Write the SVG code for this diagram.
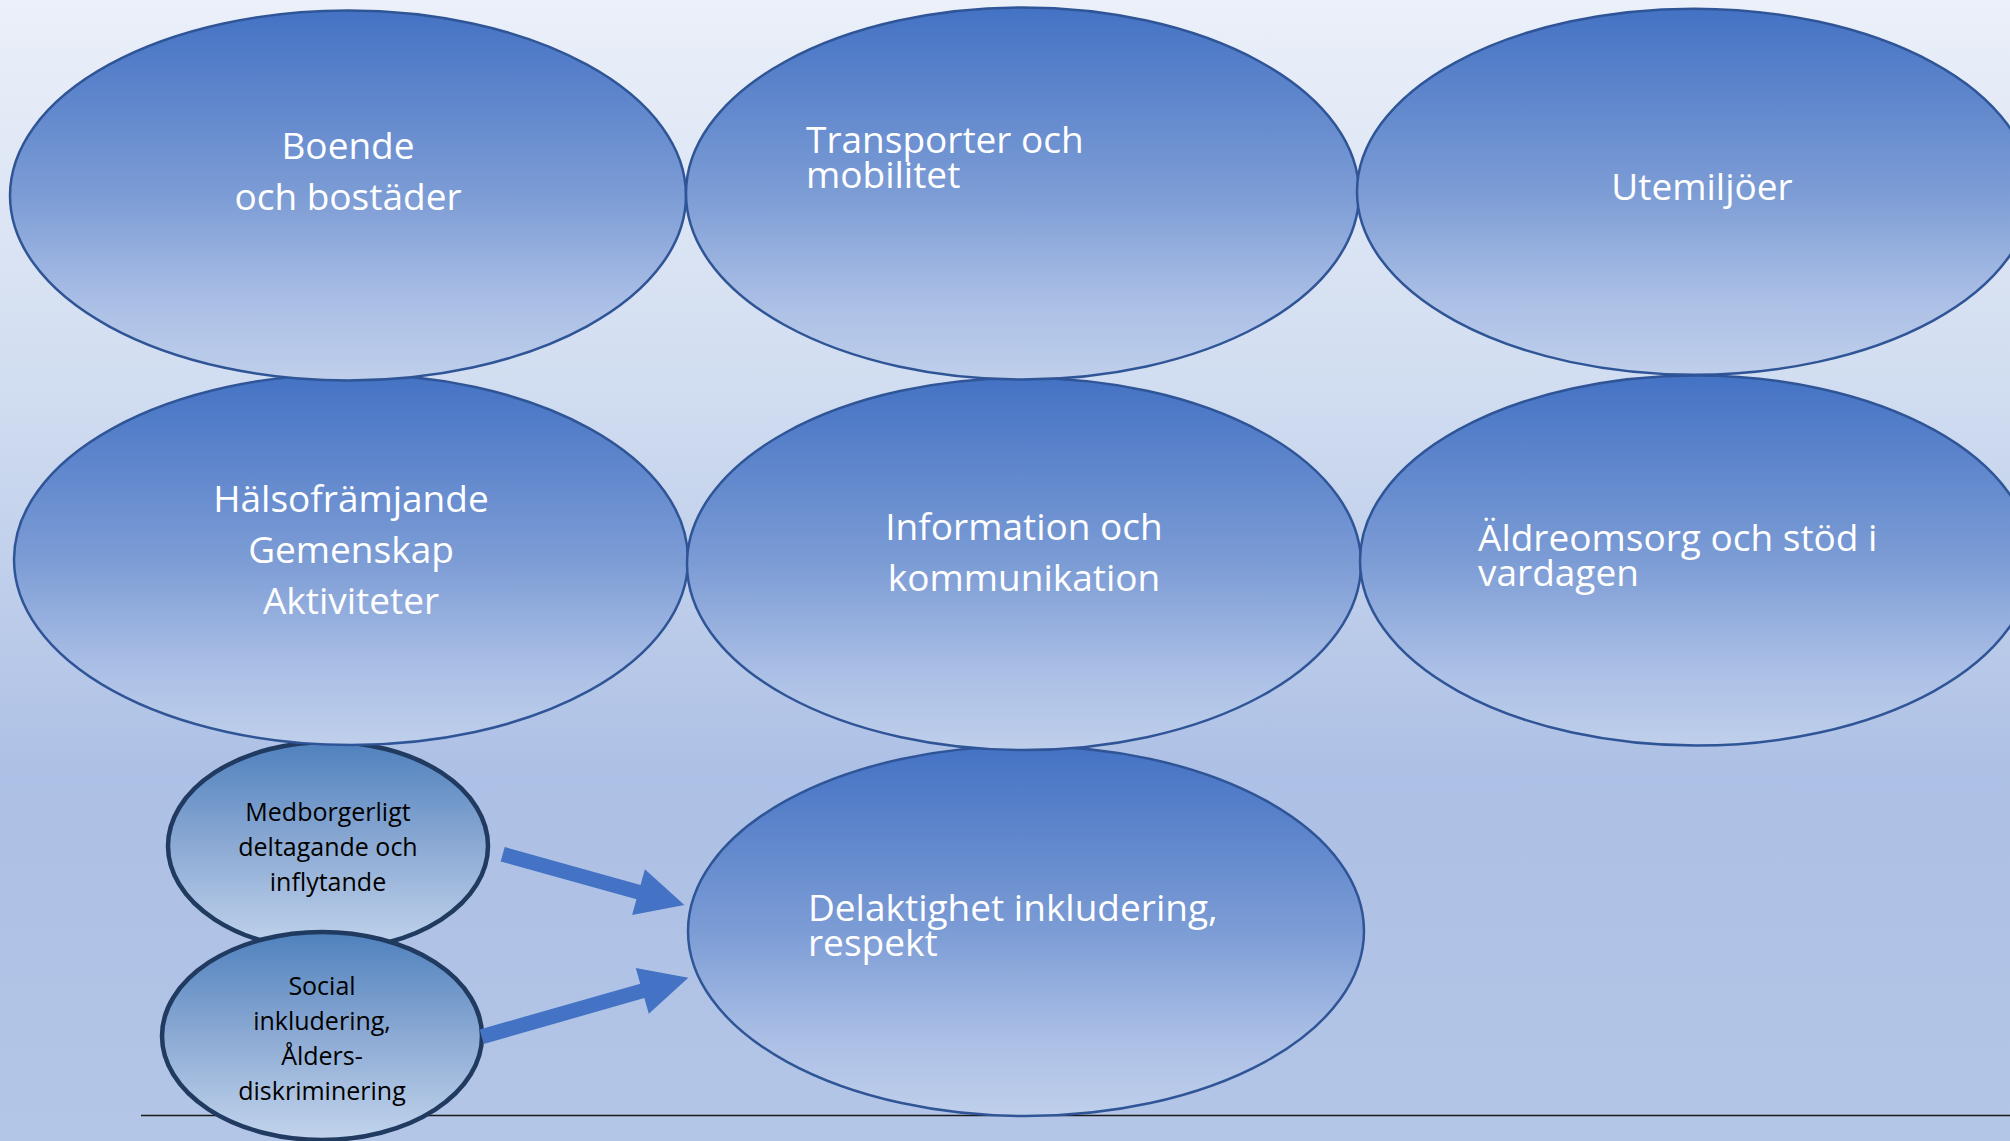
<svg xmlns="http://www.w3.org/2000/svg" width="2010" height="1141" viewBox="0 0 2010 1141">
<defs>
<linearGradient id="bg" x1="0" y1="0" x2="0" y2="1">
<stop offset="0" stop-color="#ebf0f9"/>
<stop offset="0.35" stop-color="#d0dcf0"/>
<stop offset="0.68" stop-color="#adc0e5"/>
<stop offset="1" stop-color="#b3c6e7"/>
</linearGradient>
<linearGradient id="big" x1="0" y1="0" x2="0" y2="1">
<stop offset="0" stop-color="#4472c4"/>
<stop offset="0.5" stop-color="#7c9cd5"/>
<stop offset="0.8" stop-color="#acc0e6"/>
<stop offset="1" stop-color="#bfcfeb"/>
</linearGradient>
<linearGradient id="small" x1="0" y1="0" x2="0" y2="1">
<stop offset="0" stop-color="#4f81bd"/>
<stop offset="0.5" stop-color="#8caad4"/>
<stop offset="1" stop-color="#c2d4ec"/>
</linearGradient>
</defs>
<style>
.big{fill:url(#big);stroke:#2f5597;stroke-width:2.5}
.small{fill:url(#small);stroke:#203a60;stroke-width:4.5}
.t{font-family:"Open Sans","Liberation Sans",sans-serif;font-size:37px;fill:#ffffff}
.c{text-anchor:middle}
.s{font-family:"Open Sans","Liberation Sans",sans-serif;font-size:25px;fill:#000000;text-anchor:middle}
.arrow{fill:#4472c4}
</style>
<rect x="0" y="0" width="2010" height="1141" fill="url(#bg)"/>
<line x1="141" y1="1115.5" x2="2010" y2="1115.5" stroke="#1a1a1a" stroke-width="1.5"/>

<g id="delaktighet">
<ellipse class="big" cx="1026" cy="931" rx="338" ry="185"/>
<text class="t" x="808" y="921">Delaktighet inkludering,<tspan x="808" dy="35">respekt</tspan></text>
</g>
<g id="medborgerligt">
<ellipse class="small" cx="328" cy="846" rx="160" ry="104"/>
<text class="s" x="328" y="821">Medborgerligt<tspan x="328" dy="35">deltagande och</tspan><tspan x="328" dy="35">inflytande</tspan></text>
</g>
<g id="social">
<ellipse class="small" cx="322" cy="1036" rx="160" ry="104"/>
<text class="s" x="322" y="995">Social<tspan x="322" dy="35">inkludering,</tspan><tspan x="322" dy="35">Ålders-</tspan><tspan x="322" dy="35">diskriminering</tspan></text>
</g>
<g id="halsoframjande">
<ellipse class="big" cx="351" cy="559.5" rx="337" ry="185.5"/>
<text class="t c" x="351" y="512">Hälsofrämjande<tspan x="351" dy="51">Gemenskap</tspan><tspan x="351" dy="51">Aktiviteter</tspan></text>
</g>
<g id="information">
<ellipse class="big" cx="1024" cy="564" rx="337" ry="186"/>
<text class="t c" x="1024" y="540">Information och<tspan x="1024" dy="51">kommunikation</tspan></text>
</g>
<g id="aldreomsorg">
<ellipse class="big" cx="1696" cy="560.5" rx="336" ry="185"/>
<text class="t" x="1478" y="551">Äldreomsorg och stöd i<tspan x="1478" dy="35">vardagen</tspan></text>
</g>
<g id="boende">
<ellipse class="big" cx="348" cy="195.5" rx="338" ry="185"/>
<text class="t c" x="348" y="159">Boende<tspan x="348" dy="51">och bostäder</tspan></text>
</g>
<g id="transporter">
<ellipse class="big" cx="1022.5" cy="193.5" rx="336.5" ry="186"/>
<text class="t" x="806" y="153">Transporter och<tspan x="806" dy="35">mobilitet</tspan></text>
</g>
<g id="utemiljoer">
<ellipse class="big" cx="1694" cy="191.7" rx="337" ry="183"/>
<text class="t c" x="1702" y="200">Utemiljöer</text>
</g>

<g id="connectors">
<path class="arrow" transform="translate(502.7,854.2) rotate(15.6)" d="M0,-7.5 H141 V-23.8 L188.6,0 L141,23.8 V7.5 H0 Z"/>
<path class="arrow" transform="translate(481.7,1036.7) rotate(-15.94)" d="M0,-7.5 H167 V-23.8 L214.9,0 L167,23.8 V7.5 H0 Z"/>
</g>
</svg>
